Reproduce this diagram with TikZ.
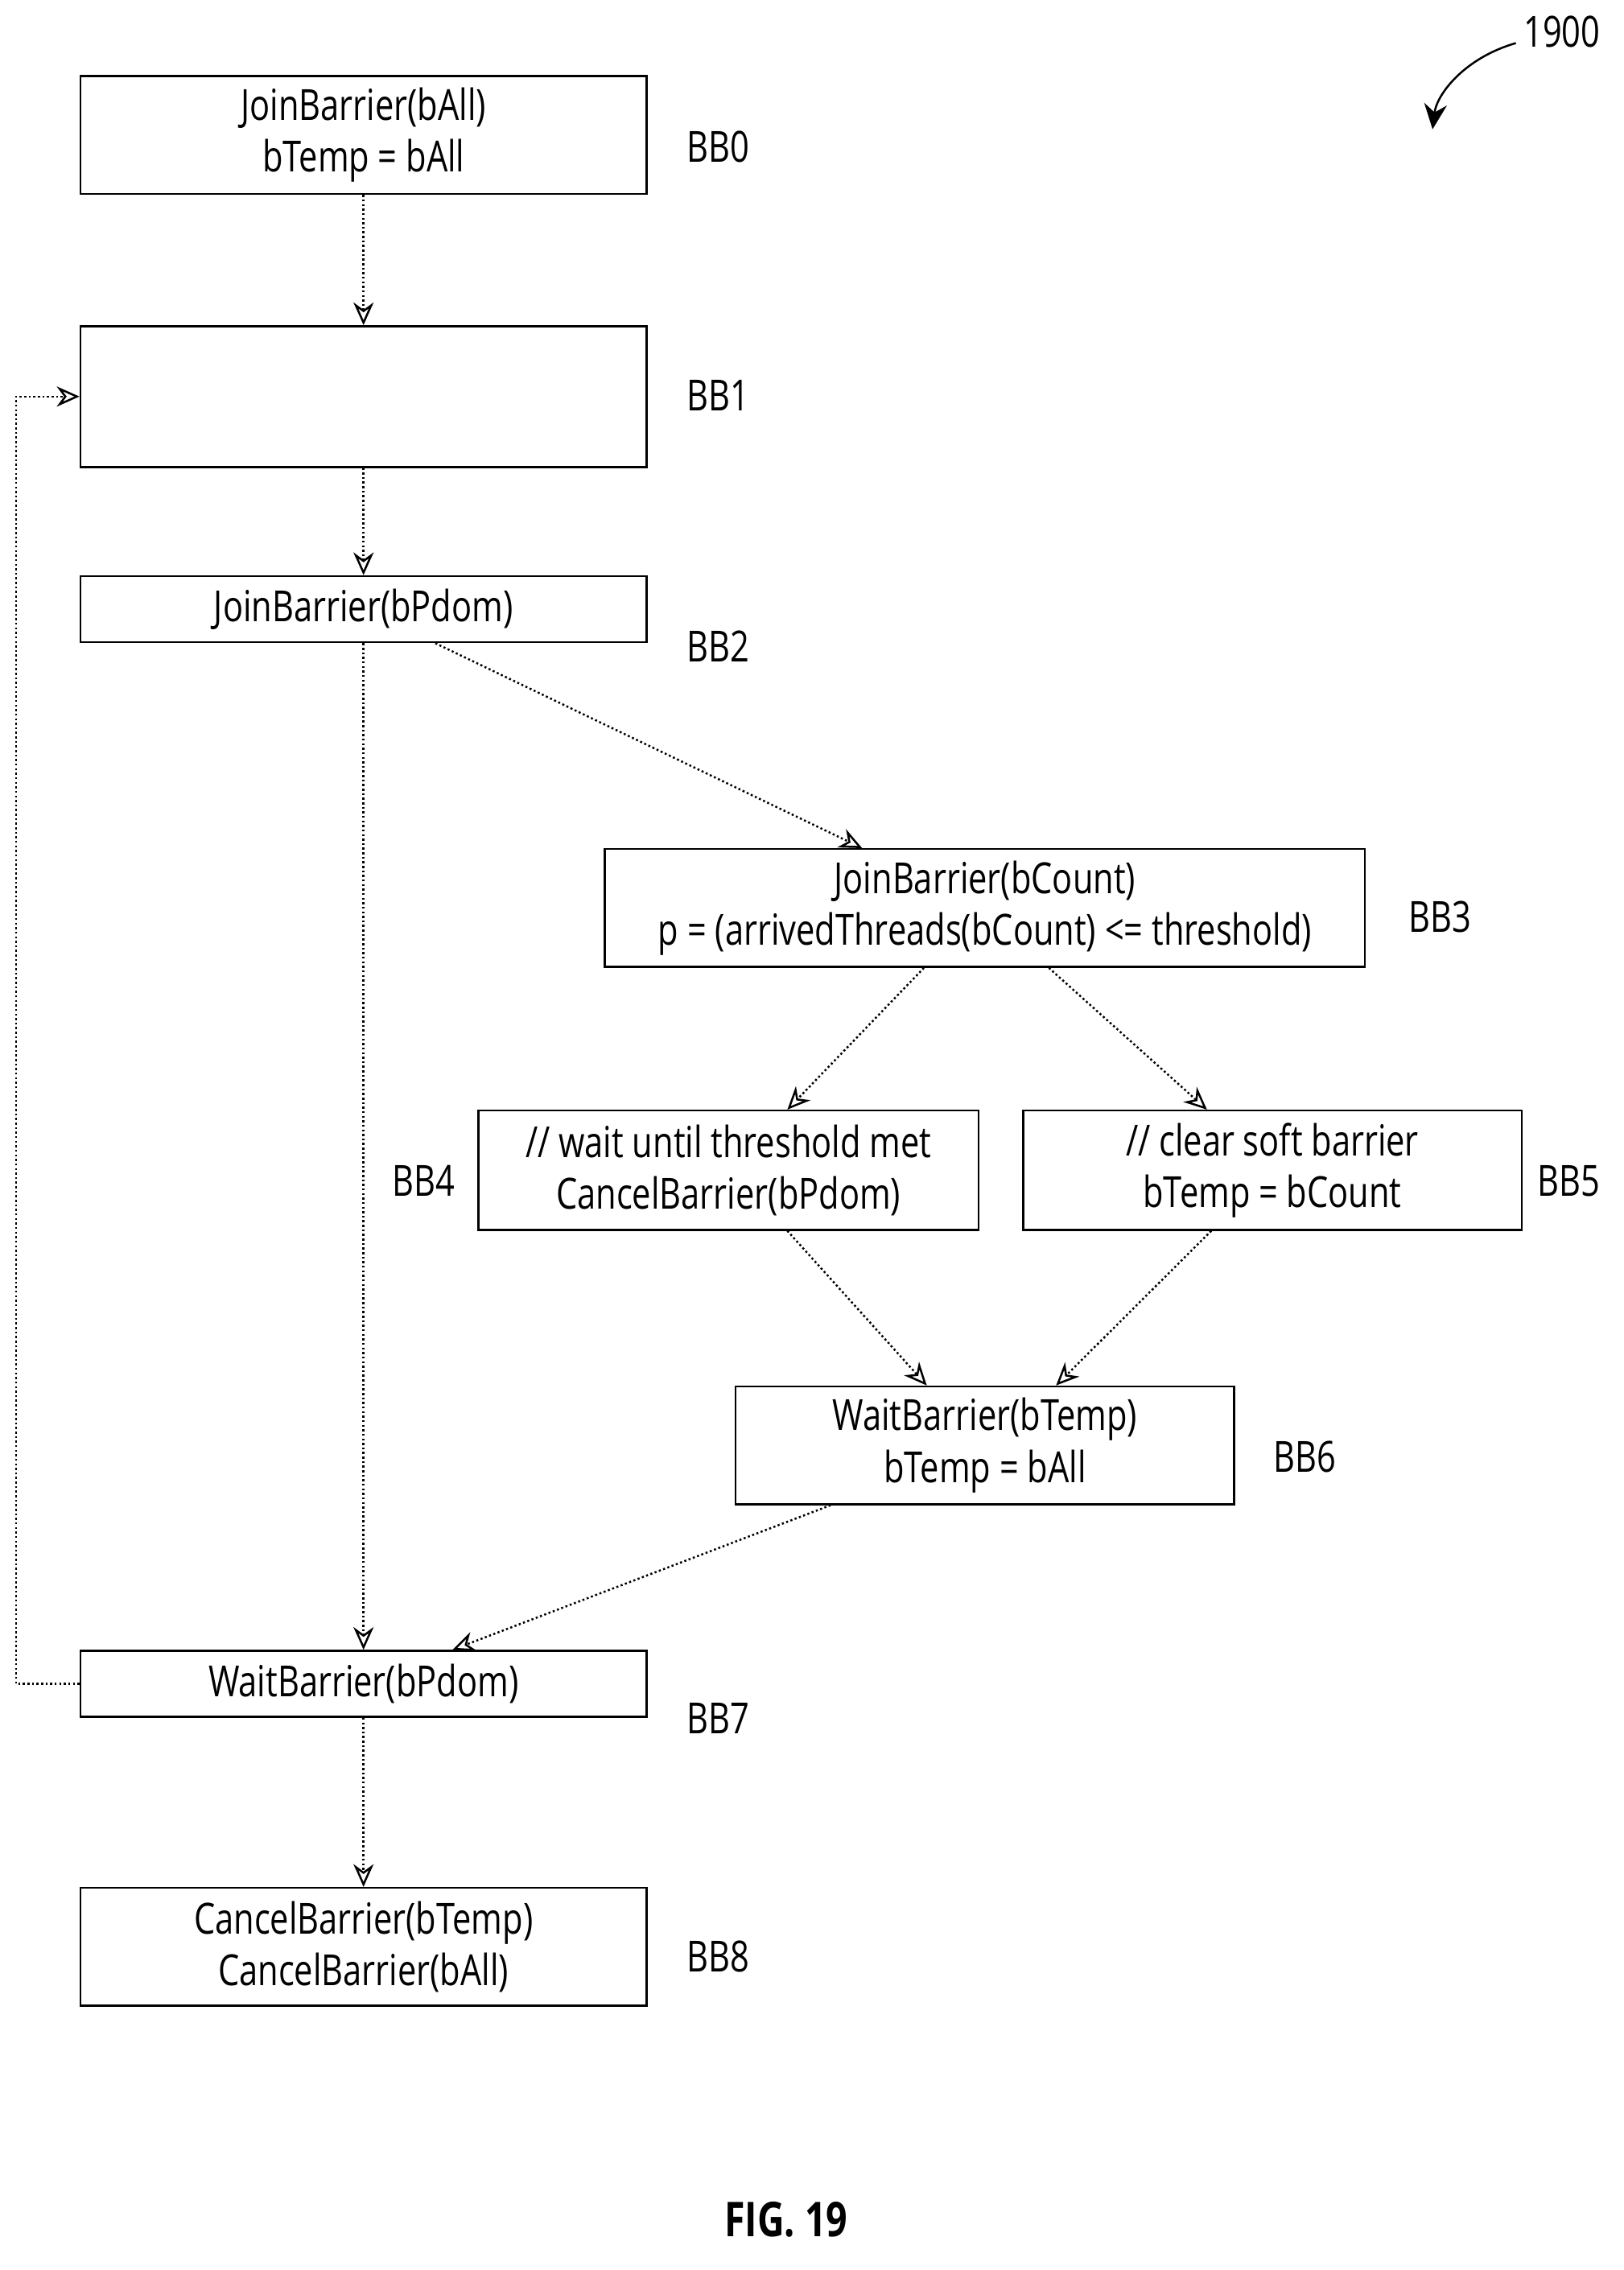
\documentclass[tikz,border=0pt]{standalone}
\usepackage{fontspec}
\setmainfont{Open Sans}[FakeStretch=0.78]
\usetikzlibrary{arrows.meta}
\begin{document}
\begin{tikzpicture}[x=0.02cm,y=-0.02cm,
  blk/.style={draw,thick,inner sep=0pt,align=center,font=\fontsize{17}{20.5}\selectfont},
  lbl/.style={font=\fontsize{17}{20}\selectfont},
  flow/.style={densely dotted,thick,-{Stealth[length=9pt,width=8pt,open]}}]

\useasboundingbox (0,0) rectangle (1130,1580);

% basic blocks
\node[blk,minimum width=394*0.02cm,minimum height=82*0.02cm] (bbzero) at (253,94) {JoinBarrier(bAll)\\bTemp = bAll};
\node[blk,minimum width=394*0.02cm,minimum height=98*0.02cm] (bbone) at (253,276) {};
\node[blk,minimum width=394*0.02cm,minimum height=46*0.02cm] (bbtwo) at (253,424) {JoinBarrier(bPdom)};
\node[blk,minimum width=529*0.02cm,minimum height=82*0.02cm] (bbthree) at (685.5,632) {JoinBarrier(bCount)\\p = (arrivedThreads(bCount) <= threshold)};
\node[blk,minimum width=348*0.02cm,minimum height=83*0.02cm] (bbfour) at (507,814.5) {// wait until threshold met\\CancelBarrier(bPdom)};
\node[blk,minimum width=347*0.02cm,minimum height=83*0.02cm] (bbfive) at (885.5,814.5) {// clear soft barrier\\bTemp = bCount};
\node[blk,minimum width=347*0.02cm,minimum height=82*0.02cm] (bbsix) at (685.5,1006) {WaitBarrier(bTemp)\\bTemp = bAll};
\node[blk,minimum width=394*0.02cm,minimum height=46*0.02cm] (bbseven) at (253,1172) {WaitBarrier(bPdom)};
\node[blk,minimum width=394*0.02cm,minimum height=82*0.02cm] (bbeight) at (253,1355) {CancelBarrier(bTemp)\\CancelBarrier(bAll)};

% block labels
\node[lbl] (lzero) at (500,102) {BB0};
\node[lbl] (lone) at (500,275) {BB1};
\node[lbl] (ltwo) at (500,450) {BB2};
\node[lbl] (lthree) at (1002,638) {BB3};
\node[lbl] (lfour) at (295,822) {BB4};
\node[lbl] (lfive) at (1092,822) {BB5};
\node[lbl] (lsix) at (908,1014) {BB6};
\node[lbl] (lseven) at (500,1196) {BB7};
\node[lbl] (leight) at (500,1362) {BB8};
\node[font=\fontsize{19}{22}\selectfont\bfseries] (fig) at (547,1545) {FIG. 19};
\node[lbl] (ref) at (1087,22) {1900};

% edges
\draw[flow] (bbzero) -- (bbone);
\draw[flow] (bbone) -- (bbtwo);
\draw[flow] (bbtwo) -- (bbseven);
\draw[flow] ([xshift=50*0.02cm]bbtwo.south) -- ([xshift=-85.5*0.02cm]bbthree.north);
\draw[flow] ([xshift=-42.5*0.02cm]bbthree.south) -- ([xshift=41*0.02cm]bbfour.north);
\draw[flow] ([xshift=44.5*0.02cm]bbthree.south) -- ([xshift=-45.5*0.02cm]bbfive.north);
\draw[flow] ([xshift=41*0.02cm]bbfour.south) -- ([xshift=-40.5*0.02cm]bbsix.north);
\draw[flow] ([xshift=-42.5*0.02cm]bbfive.south) -- ([xshift=49.5*0.02cm]bbsix.north);
\draw[flow] ([xshift=-107.5*0.02cm]bbsix.south) -- ([xshift=62*0.02cm]bbseven.north);
\draw[flow] (bbseven.west) -- ++(-44,0) |- (bbone.west);
\draw[flow] (bbseven) -- (bbeight);
\draw[thick,-{Stealth[length=10pt,width=9pt]}] (1055,30) .. controls (1020,40) and (1000,65) .. (997,90);
\end{tikzpicture}
\end{document}
